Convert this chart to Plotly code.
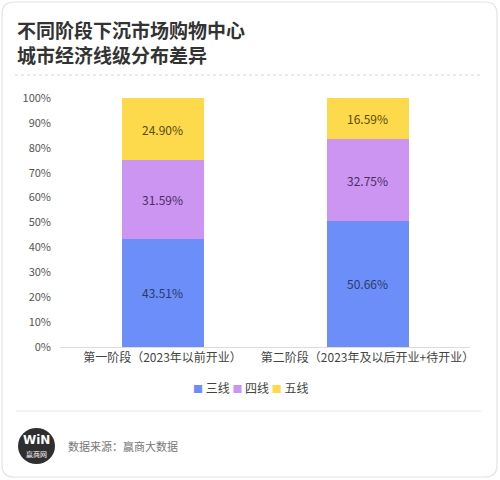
import plotly.graph_objects as go

# ----------------------------------------------------------------------------------------------------------------------
# DATA
# ----------------------------------------------------------------------------------------------------------------------
stages = ['第一阶段（2023年以前开业）', '第二阶段（2023年及以后开业+待开业）']
tier_names = ['三线', '四线', '五线']
tier3 = [43.51, 50.66]
tier4 = [31.59, 32.75]
tier5 = [24.90, 16.59]
y_ticks = [0, 10, 20, 30, 40, 50, 60, 70, 80, 90, 100]
y_labels = ['%d%%' % v for v in y_ticks]

colors = ['#6b8ef8', '#cb95f1', '#fdd94c']
text_colors = ['#2c3a66', '#4b2d63', '#5a4a14']
font = 'Noto Sans CJK SC'

# plot area in pixels (500x480 page)
W, H = 500, 480
L, R, T, B = 60, 470, 98, 347


def px(x):
        return (x - L) / (R - L)


def py(y):
        return (B - y) / (B - T)


fig = go.Figure()
for name, vals, col, tcol in zip(tier_names, [tier3, tier4, tier5], colors, text_colors):
        fig.add_trace(go.Bar(
                x=stages,
                y=vals,
                name=name,
                marker=dict(color=col, line=dict(width=0)),
                width=0.4,
                text=['%.2f%%' % v for v in vals],
                textposition='inside',
                insidetextanchor='middle',
                textfont=dict(family=font, size=12, color=tcol),
                showlegend=False
                ))

# card with rounded corners
x0, y0, x1, y1, r = 2, 2, 497, 477, 12
card = ('M {a},{b} L {c},{b} Q {d},{b} {d},{e} L {d},{f} Q {d},{g} {c},{g} '
        'L {a},{g} Q {h},{g} {h},{f} L {h},{e} Q {h},{b} {a},{b} Z').format(
        a=px(x0 + r), b=py(y0), c=px(x1 - r), d=px(x1), e=py(y0 + r),
        f=py(y1 - r), g=py(y1), h=px(x0))

shapes = [
        dict(type='path', xref='paper', yref='paper', path=card,
             line=dict(color='#e3e3e3', width=1.2), fillcolor='rgba(0,0,0,0)', layer='below'),
        dict(type='line', xref='paper', yref='paper', x0=px(15), x1=px(482), y0=py(75), y1=py(75),
             line=dict(color='#d8d8d8', width=1, dash='dot')),
        dict(type='line', xref='paper', yref='paper', x0=px(16), x1=px(481), y0=py(411), y1=py(411),
             line=dict(color='#e6e6e6', width=1)),
        dict(type='circle', xref='paper', yref='paper', x0=px(18), x1=px(55), y0=py(428), y1=py(464),
             fillcolor='#2f2f2f', line=dict(width=0)),
        ]

legend_txt = ' '.join('<span style="color:%s;font-size:10px">■</span> %s' % (c, n)
                      for c, n in zip(colors, tier_names))

annotations = [
        dict(text='<b>不同阶段下沉市场购物中心<br>城市经济线级分布差异</b>', x=px(15), y=py(42),
             xanchor='left', yanchor='middle', align='left',
             font=dict(family=font, size=19, color='#333333')),
        dict(text=legend_txt, x=px(250), y=py(387), xanchor='center', yanchor='middle',
             font=dict(family=font, size=12, color='#444444')),
        dict(text='<b>WiN</b>', x=px(36.5), y=py(440), xanchor='center', yanchor='middle',
             font=dict(family='DejaVu Sans', size=12, color='white')),
        dict(text='赢商网', x=px(36.5), y=py(454), xanchor='center', yanchor='middle',
             font=dict(family=font, size=7, color='white')),
        dict(text='数据来源：赢商大数据', x=px(66), y=py(446), xanchor='left', yanchor='middle',
             font=dict(family=font, size=11, color='#777777')),
        ]
for a in annotations:
        a.update(xref='paper', yref='paper', showarrow=False)

fig.update_layout(
        width=W,
        height=H,
        barmode='stack',
        margin=dict(l=L, r=W - R, t=T, b=H - B, pad=0),
        paper_bgcolor='white',
        plot_bgcolor='white',
        font=dict(family=font, color='#555555'),
        shapes=shapes,
        annotations=annotations,
        xaxis=dict(showgrid=False, showline=True, linecolor='#dcdcdc', linewidth=1,
                   ticks='', tickfont=dict(size=12, color='#444444')),
        yaxis=dict(range=[0, 100], tickvals=y_ticks, ticktext=y_labels, showgrid=False,
                   zeroline=False, showline=False, ticks='', ticklabelstandoff=8,
                   tickfont=dict(size=11, color='#555555')),
        )

fig.write_html('out.html', config={'displayModeBar': False},
               post_script="document.body.style.margin='0';")
